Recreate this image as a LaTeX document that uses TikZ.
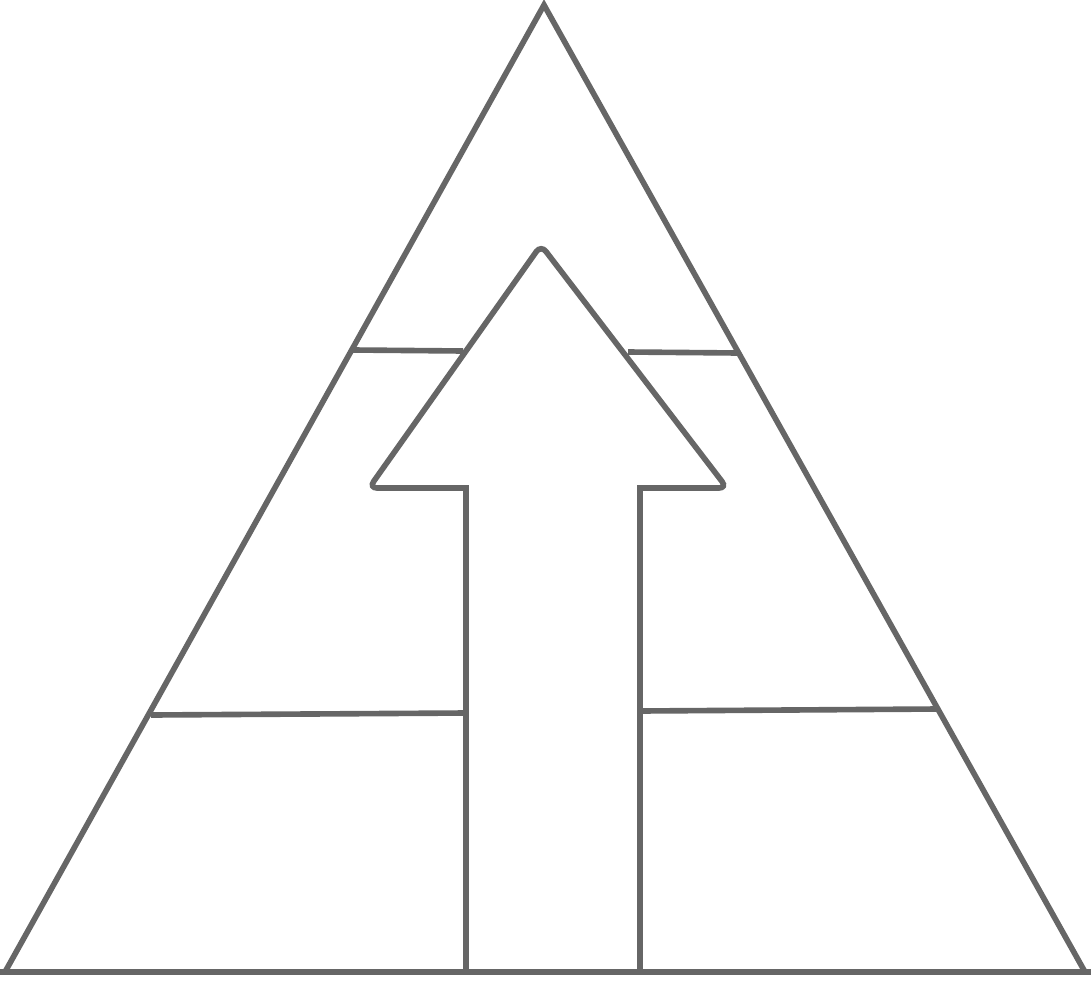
\documentclass[tikz,border=0pt]{standalone}
\usepackage{tikz}
\definecolor{edgegray}{HTML}{666666}
\tikzstyle{outline} = [draw=edgegray, line width=3.2pt, line join=miter]
\tikzstyle{arrowline} = [outline]

\begin{document}
\begin{tikzpicture}[x=0.02cm, y=-0.02cm]
\useasboundingbox (0,0) rectangle (1091,980);
% pyramid
\coordinate (apex) at (544,5);
\coordinate (baseL) at (5,972);
\coordinate (baseR) at (1085,972);
\draw [outline] (baseL) -- (apex) -- (baseR);
\draw [outline] (0,972) -- (1091,972);
% arrow
\coordinate (tip) at (541,245);
\coordinate (headL) at (369,488);
\coordinate (headR) at (727,488);
\coordinate (shaftL) at (466,488);
\coordinate (shaftR) at (640,488);
\draw [arrowline] (466,972) -- (shaftL) [rounded corners=0.16cm] -- (headL) -- (tip) -- (headR) [sharp corners] -- (shaftR) -- (640,972);
% dividers
\draw [outline] (353,350) -- (463,351);
\draw [outline] (628,352) -- (738,353);
\draw [outline] (151,715) -- (466,713);
\draw [outline] (640,711) -- (938,709);
\end{tikzpicture}
\end{document}
